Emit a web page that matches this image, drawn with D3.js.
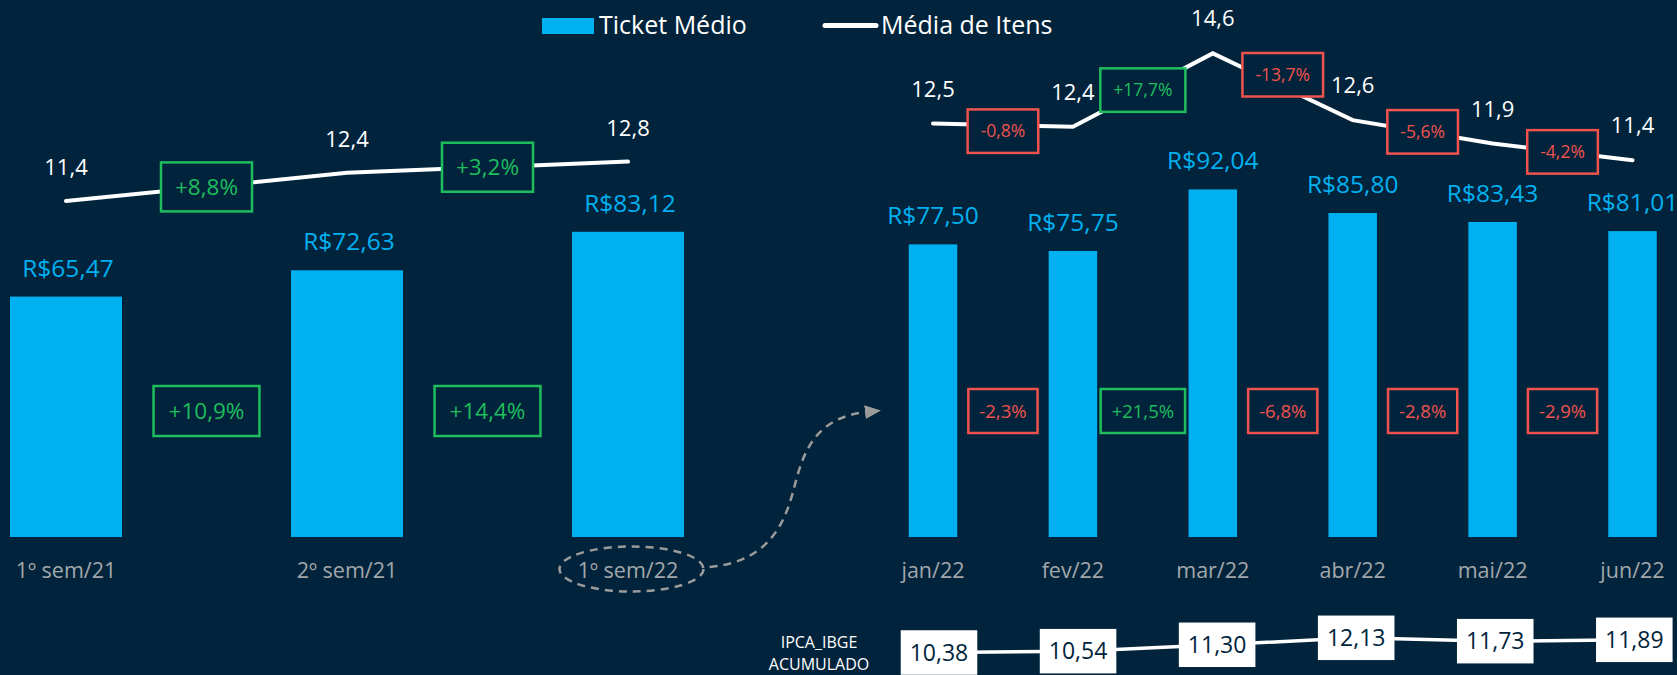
<!DOCTYPE html>
<html>
<head>
<meta charset="utf-8">
<script src="https://cdn.jsdelivr.net/npm/d3@7"></script>
<style>
  body { margin: 0; background: #01243c; overflow: hidden; }
  text { font-family: "Open Sans", sans-serif; }
</style>
</head>
<body>
<div id="app"></div>
<script>
// semesters
const semesters = ["1º sem/21", "2º sem/21", "1º sem/22"];
const semTicket = [65.47, 72.63, 83.12];
const semItens = [11.4, 12.4, 12.8];
const semTicketChg = [10.9, 14.4];
const semItensChg = [8.8, 3.2];

// months
const months = ["jan/22", "fev/22", "mar/22", "abr/22", "mai/22", "jun/22"];
const monTicket = [77.50, 75.75, 92.04, 85.80, 83.43, 81.01];
const monItens = [12.5, 12.4, 14.6, 12.6, 11.9, 11.4];
const monTicketChg = [-2.3, 21.5, -6.8, -2.8, -2.9];
const monItensChg = [-0.8, 17.7, -13.7, -5.6, -4.2];
const ipca = [10.38, 10.54, 11.30, 12.13, 11.73, 11.89];

const width = 1677, height = 675;
const BLUE = "#00b0f0", GREEN = "#1fbd5e", RED = "#f0524e", GREY = "#a3a7ab", BG = "#01243c";

const locale = d3.formatLocale({ decimal: ",", thousands: ".", grouping: [3], currency: ["R$", ""], minus: "-" });
const fmtMoney = locale.format("$.2f");
const fmt1 = locale.format(".1f");
const fmt2 = locale.format(".2f");
const fmtPct = v => (v > 0 ? "+" : "") + fmt1(v) + "%";

const svg = d3.select("#app").append("svg")
  .attr("width", width)
  .attr("height", height);

// scales
const xL = d3.scalePoint().domain(semesters).range([66, 628]);
const xR = d3.scalePoint().domain(months).range([933, 1632.5]);
const xIpca = d3.scalePoint().domain(months).range([939, 1634.3]);

const yL = d3.scaleLinear().domain([0, 100]).range([537, 537 - 367.2]);
const yR = d3.scaleLinear().domain([0, 100]).range([537, 537 - 377.6]);
const yItensL = d3.scaleLinear().domain([11, 13]).range([212.2, 156.0]);
const yItensR = d3.scaleLinear().domain([11, 15]).range([173.6, 40]);
const yIpca = d3.scaleLinear().domain([10, 13]).range([655.7, 630.5]);

// small label nudges (layout only)
const monItensBoxNudge = [6, 0, -12, 0, 0];

function changeBox(g, cx, cy, value, fontSize, padX, h) {
  const color = value >= 0 ? GREEN : RED;
  const grp = g.append("g");
  const t = grp.append("text")
    .attr("x", cx)
    .attr("y", cy + fontSize * 0.36)
    .attr("text-anchor", "middle")
    .attr("fill", color)
    .style("font-size", fontSize + "px")
    .text(fmtPct(value));
  const w = t.node().getComputedTextLength() + padX * 2;
  grp.insert("rect", "text")
    .attr("x", cx - w / 2)
    .attr("y", cy - h / 2)
    .attr("width", w)
    .attr("height", h)
    .attr("fill", BG)
    .attr("stroke", color)
    .attr("stroke-width", 2.5);
}

// legend
const legend = svg.append("g");
legend.append("rect")
  .attr("x", 542).attr("y", 18)
  .attr("width", 52).attr("height", 16)
  .attr("fill", BLUE);
legend.append("text")
  .attr("x", 599).attr("y", 34)
  .attr("fill", "#fff")
  .style("font-size", "25px")
  .text("Ticket Médio");
legend.append("line")
  .attr("x1", 825).attr("x2", 876)
  .attr("y1", 25.5).attr("y2", 25.5)
  .attr("stroke", "#fff")
  .attr("stroke-width", 5)
  .attr("stroke-linecap", "round");
legend.append("text")
  .attr("x", 881).attr("y", 34)
  .attr("fill", "#fff")
  .style("font-size", "25px")
  .text("Média de Itens");

// ---------- left panel (semesters) ----------
const left = svg.append("g");
const bwL = 112;

left.selectAll(".bar")
  .data(semTicket)
  .join("rect")
  .attr("x", (d, i) => xL(semesters[i]) - bwL / 2)
  .attr("y", d => yL(d))
  .attr("width", bwL)
  .attr("height", d => yL(0) - yL(d))
  .attr("fill", BLUE);

left.selectAll(".barlab")
  .data(semTicket)
  .join("text")
  .attr("x", (d, i) => xL(semesters[i]) + 2)
  .attr("y", d => yL(d) - 20)
  .attr("text-anchor", "middle")
  .attr("fill", BLUE)
  .style("font-size", "24.5px")
  .text(d => fmtMoney(d));

left.selectAll(".cat")
  .data(semesters)
  .join("text")
  .attr("x", d => xL(d))
  .attr("y", 578)
  .attr("text-anchor", "middle")
  .attr("fill", GREY)
  .style("font-size", "21.5px")
  .text(d => d);

const lineL = d3.line()
  .x((d, i) => xL(semesters[i]))
  .y(d => yItensL(d));

left.append("path")
  .datum(semItens)
  .attr("d", lineL)
  .attr("fill", "none")
  .attr("stroke", "#fff")
  .attr("stroke-width", 4)
  .attr("stroke-linecap", "round");

left.selectAll(".itlab")
  .data(semItens)
  .join("text")
  .attr("x", (d, i) => xL(semesters[i]))
  .attr("y", d => yItensL(d) - 26)
  .attr("text-anchor", "middle")
  .attr("fill", "#fff")
  .style("font-size", "22px")
  .text(d => fmt1(d));

semItensChg.forEach((v, i) => {
  const cx = (xL(semesters[i]) + xL(semesters[i + 1])) / 2;
  const cy = (yItensL(semItens[i]) + yItensL(semItens[i + 1])) / 2;
  changeBox(left, cx, cy, v, 22.5, 14, 49);
});

semTicketChg.forEach((v, i) => {
  const cx = (xL(semesters[i]) + xL(semesters[i + 1])) / 2;
  changeBox(left, cx, 411, v, 22.5, 15, 50);
});

// ---------- right panel (months) ----------
const right = svg.append("g");
const bwR = 48.5;

right.selectAll(".bar")
  .data(monTicket)
  .join("rect")
  .attr("x", (d, i) => xR(months[i]) - bwR / 2)
  .attr("y", d => yR(d))
  .attr("width", bwR)
  .attr("height", d => yR(0) - yR(d))
  .attr("fill", BLUE);

right.selectAll(".barlab")
  .data(monTicket)
  .join("text")
  .attr("x", (d, i) => xR(months[i]))
  .attr("y", d => yR(d) - 20)
  .attr("text-anchor", "middle")
  .attr("fill", BLUE)
  .style("font-size", "24.5px")
  .text(d => fmtMoney(d));

right.selectAll(".cat")
  .data(months)
  .join("text")
  .attr("x", d => xR(d))
  .attr("y", 578)
  .attr("text-anchor", "middle")
  .attr("fill", GREY)
  .style("font-size", "21.5px")
  .text(d => d);

const lineR = d3.line()
  .x((d, i) => xR(months[i]))
  .y(d => yItensR(d));

right.append("path")
  .datum(monItens)
  .attr("d", lineR)
  .attr("fill", "none")
  .attr("stroke", "#fff")
  .attr("stroke-width", 4)
  .attr("stroke-linecap", "round");

right.selectAll(".itlab")
  .data(monItens)
  .join("text")
  .attr("x", (d, i) => xR(months[i]))
  .attr("y", d => yItensR(d) - 27)
  .attr("text-anchor", "middle")
  .attr("fill", "#fff")
  .style("font-size", "22px")
  .text(d => fmt1(d));

monItensChg.forEach((v, i) => {
  const cx = (xR(months[i]) + xR(months[i + 1])) / 2;
  const cy = (yItensR(monItens[i]) + yItensR(monItens[i + 1])) / 2 + monItensBoxNudge[i];
  changeBox(right, cx, cy, v, 17.5, 13, 43.5);
});

monTicketChg.forEach((v, i) => {
  const cx = (xR(months[i]) + xR(months[i + 1])) / 2;
  changeBox(right, cx, 411, v, 18.5, 11, 44);
});

// ---------- IPCA row ----------
const ipcaG = svg.append("g");

ipcaG.append("text")
  .attr("x", 819).attr("y", 648)
  .attr("text-anchor", "middle")
  .attr("fill", "#fff")
  .style("font-size", "16px")
  .text("IPCA_IBGE");
ipcaG.append("text")
  .attr("x", 819).attr("y", 670)
  .attr("text-anchor", "middle")
  .attr("fill", "#fff")
  .style("font-size", "16px")
  .text("ACUMULADO");

ipcaG.append("path")
  .datum(ipca)
  .attr("d", d3.line().x((d, i) => xIpca(months[i])).y(d => yIpca(d)))
  .attr("fill", "none")
  .attr("stroke", "#fff")
  .attr("stroke-width", 3.5);

ipca.forEach((v, i) => {
  const cx = xIpca(months[i]), cy = yIpca(v);
  const grp = ipcaG.append("g");
  const t = grp.append("text")
    .attr("x", cx)
    .attr("y", cy + 23 * 0.36)
    .attr("text-anchor", "middle")
    .attr("fill", BG)
    .style("font-size", "23px")
    .text(fmt2(v));
  const w = t.node().getComputedTextLength() + 18;
  grp.insert("rect", "text")
    .attr("x", cx - w / 2)
    .attr("y", cy - 22.25)
    .attr("width", w)
    .attr("height", 44.5)
    .attr("fill", "#fff");
});

// ---------- dashed highlight + arrow ----------
const hx = xL(semesters[2]) + 3.5, hy = 569;
svg.append("ellipse")
  .attr("cx", hx).attr("cy", hy)
  .attr("rx", 72).attr("ry", 22.5)
  .attr("fill", "none")
  .attr("stroke", "#9b9b9b")
  .attr("stroke-width", 2.5)
  .attr("stroke-dasharray", "8,6");

const defs = svg.append("defs");
defs.append("marker")
  .attr("id", "arrow")
  .attr("markerUnits", "userSpaceOnUse")
  .attr("markerWidth", 18).attr("markerHeight", 16)
  .attr("refX", 1).attr("refY", 7)
  .attr("orient", "auto")
  .append("path")
  .attr("d", "M0,0 L16,7 L0,14 Z")
  .attr("fill", "#9b9b9b");

const ax0 = hx + 72 + 6, ax1 = xR(months[0]) - 67;
svg.append("path")
  .attr("d", `M${ax0},567 C${ax0 + 61},562 ${ax0 + 76},520 ${ax0 + 84},490 S${ax0 + 101},418 ${ax1},412`)
  .attr("fill", "none")
  .attr("stroke", "#9b9b9b")
  .attr("stroke-width", 2.5)
  .attr("stroke-dasharray", "8,6")
  .attr("marker-end", "url(#arrow)");
</script>
</body>
</html>
